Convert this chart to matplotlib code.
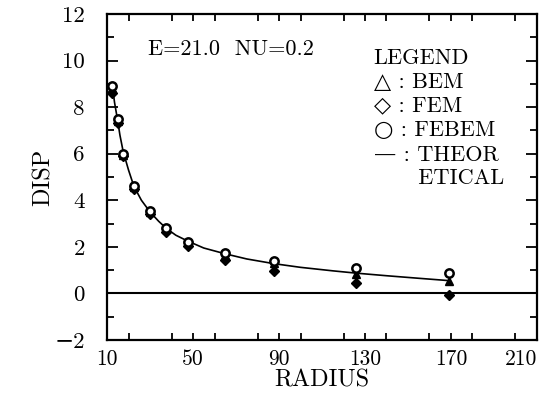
import matplotlib
matplotlib.use("Agg")
import matplotlib.pyplot as plt
from matplotlib.ticker import MultipleLocator

plt.rcParams['font.family'] = ['cmr10', 'DejaVu Serif']
plt.rcParams['axes.unicode_minus'] = True
plt.rcParams['axes.formatter.use_mathtext'] = False

radius = [12.5, 15, 17.5, 22.5, 30, 37.5, 47.5, 65, 87.5, 126, 169]
bem = [8.8, 7.4, 5.95, 4.55, 3.5, 2.75, 2.15, 1.65, 1.3, 0.85, 0.55]
fem = [8.6, 7.3, 5.9, 4.5, 3.4, 2.62, 2.05, 1.45, 0.95, 0.45, -0.05]
febem = [8.9, 7.5, 6.0, 4.6, 3.55, 2.8, 2.2, 1.75, 1.38, 1.09, 0.88]

theo_r = [12.5, 13.5, 15, 16, 17.5, 20, 22.5, 26, 30, 34, 37.5, 42, 47.5, 55, 65, 75, 87.5, 100, 115, 126, 140, 155, 169]
theo_d = [8.9, 8.2, 7.4, 6.8, 6.1, 5.3, 4.6, 4.0, 3.5, 3.1, 2.8, 2.5, 2.25, 1.95, 1.7, 1.48, 1.28, 1.12, 0.97, 0.87, 0.76, 0.65, 0.55]

xticks = [10, 50, 90, 130, 170, 210]
yticks = [-2, 0, 2, 4, 6, 8, 10, 12]

fig = plt.figure(figsize=(5.46, 4.05), dpi=100)
ax = fig.add_axes([0.196, 0.1605, 0.7875, 0.805])

ax.axhline(0, color='black', lw=1.5, zorder=1)
ax.plot(theo_r, theo_d, color='black', lw=1.2, zorder=2)
ax.plot(radius, fem, linestyle='none', marker='D', ms=5, color='black', zorder=3)
ax.plot(radius, bem, linestyle='none', marker='^', ms=6, color='black', zorder=3)
ax.plot(radius, febem, linestyle='none', marker='o', ms=6, mfc='white', mec='black', mew=1.8, zorder=4)

ax.set_xlim(10, 210)
ax.set_ylim(-2, 12)
ax.set_xticks(xticks)
ax.xaxis.set_minor_locator(MultipleLocator(20))
ax.set_yticks(yticks)
ax.yaxis.set_minor_locator(MultipleLocator(1))
ax.tick_params(which='both', direction='in', top=True, right=True, width=1.3)
ax.tick_params(which='major', axis='y', length=8, labelsize=16.5, pad=16)
ax.tick_params(which='minor', axis='y', length=5)
ax.tick_params(which='both', axis='x', length=5, labelsize=15.5, pad=7)
for s in ax.spines.values():
    s.set_linewidth(1.6)
xl = ax.get_xticklabels()
xl[-1].set_horizontalalignment('right')

ax.set_xlabel('RADIUS', fontsize=17.5, labelpad=0)
ax.set_ylabel('DISP', fontsize=17.5, labelpad=0)

ax.text(29, 10.5, 'E=21.0  NU=0.2', fontsize=16, va='center', ha='left')
legend_lines = ['LEGEND', '△ : BEM', '◇ : FEM', '○ : FEBEM', '— : THEOR', '      ETICAL']
ly = [10.1, 9.05, 8.05, 7.0, 5.95, 4.95]
for t, y in zip(legend_lines, ly):
    ax.text(134, y, t, fontsize=16, va='center', ha='left')

fig.savefig('out.png', dpi=100)
